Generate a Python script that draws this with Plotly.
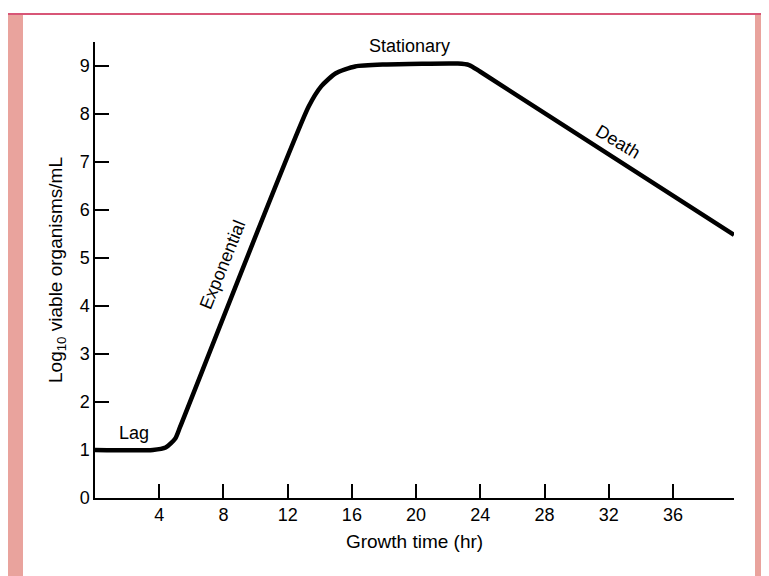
import plotly.graph_objects as go

# Data
time_hr = [0, 3.6, 4.4, 5.0, 5.3, 13.3, 14.1, 15.0, 16.2, 18, 22.6, 23.3, 24.0, 39.8]
log_viable = [1.0, 1.0, 1.05, 1.24, 1.48, 8.15, 8.58, 8.85, 8.99, 9.03, 9.05, 9.02, 8.88, 5.48]
x_ticks = [4, 8, 12, 16, 20, 24, 28, 32, 36]
y_ticks = [0, 1, 2, 3, 4, 5, 6, 7, 8, 9]
phase_labels = ["Lag", "Exponential", "Stationary", "Death"]
phase_x = [2.4, 7.95, 19.6, 32.6]
phase_y = [1.35, 4.85, 9.42, 7.42]
phase_angle = [0, -68, 0, 31]

FONT = "Liberation Sans, Arial, sans-serif"

fig = go.Figure()
fig.add_trace(go.Scatter(
    x=time_hr, y=log_viable, mode="lines",
    line=dict(color="black", width=4.5, shape="spline", smoothing=0.6),
    hoverinfo="skip", showlegend=False,
))

for txt, xx, yy, ang in zip(phase_labels, phase_x, phase_y, phase_angle):
    fig.add_annotation(x=xx, y=yy, text=txt, showarrow=False, textangle=ang,
                       font=dict(family=FONT, size=18, color="black"))

# page body has an 8px margin: work in window pixels and shift
OFF = 8
W, H = 769 - OFF, 576 - OFF
L, T = 95 - OFF, 42 - OFF
pw, ph = 734 - 95, 498 - 42
R, B = W - L - pw, H - T - ph

def px(xw):
    return (xw - OFF - L) / pw

def py(yw):
    return (H - B - (yw - OFF)) / ph

shapes = [
    dict(type="rect", xref="paper", yref="paper", x0=px(7), x1=px(23), y0=py(580), y1=py(15),
         fillcolor="#e9a39d", line=dict(width=0), layer="below"),
    dict(type="rect", xref="paper", yref="paper", x0=px(755), x1=px(772), y0=py(580), y1=py(15),
         fillcolor="#e9a39d", line=dict(width=0), layer="below"),
    dict(type="rect", xref="paper", yref="paper", x0=px(7), x1=px(772), y0=py(15), y1=py(13),
         fillcolor="#d85677", line=dict(width=0), layer="below"),
]

fig.update_layout(
    width=W, height=H,
    margin=dict(l=L, r=R, t=T, b=B),
    paper_bgcolor="white", plot_bgcolor="white",
    font=dict(family=FONT, size=18, color="black"),
    shapes=shapes,
    xaxis=dict(
        range=[0, 39.8], tickvals=x_ticks, ticks="inside", ticklen=14, tickwidth=1.5,
        tickcolor="black", showline=True, linecolor="black", linewidth=1.5,
        showgrid=False, zeroline=False,
        title=dict(text="Growth time (hr)", font=dict(size=19), standoff=10),
        tickfont=dict(size=18),
    ),
    yaxis=dict(
        range=[0, 9.5], tickvals=y_ticks, ticks="inside", ticklen=14, tickwidth=1.5,
        tickcolor="black", showline=True, linecolor="black", linewidth=1.5,
        showgrid=False, zeroline=False,
        title=dict(text="Log<sub>10</sub> viable organisms/mL", font=dict(size=19), standoff=12),
        tickfont=dict(size=18),
    ),
)

fig.write_html("out.html")
